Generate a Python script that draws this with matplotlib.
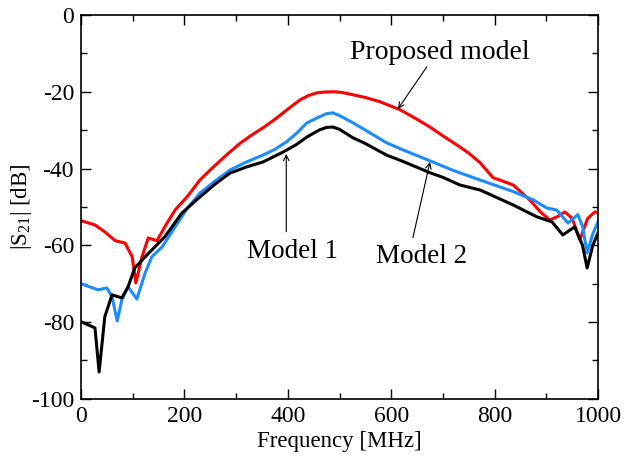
import numpy as np
import matplotlib
matplotlib.use("Agg")
import matplotlib.pyplot as plt
from matplotlib.ticker import MultipleLocator

# |S21| of the three models vs frequency
freq_prop = [0, 27, 46, 66, 85, 99, 106, 118, 130, 147, 162, 182, 205, 230, 256,
             282, 308, 330, 352, 372, 391, 410, 424, 440, 456, 470, 490, 505,
             526, 550, 578, 617, 645, 675, 700, 733, 750, 772, 797,
             810, 836, 868, 890, 907, 922, 936, 950, 965, 980, 994, 1000]
s21_prop = [-53.6, -54.7, -56.5, -58.8, -59.4, -63.0, -69.8, -63.0, -58.1, -58.8,
            -55.2, -50.8, -47.4, -43.0, -39.6, -36.4, -33.4, -31.3, -29.4, -27.5,
            -25.5, -23.5, -22.1, -21.0, -20.3, -20.1, -20.0, -20.2, -20.8, -21.5,
            -22.6, -24.7, -26.8, -29.2, -31.5, -34.4, -36.0, -38.5, -42.4, -43.0,
            -44.3, -48.2, -51.5, -53.4, -52.5, -51.3, -53.0, -58.6, -53.0, -51.3,
            -51.5]

freq_m2 = [0, 33, 50, 60, 70, 79, 91, 108, 124, 137, 157, 182, 205, 230, 260,
           288, 320, 352, 375, 398, 418, 437, 462, 475, 487, 500, 526, 550, 591,
           620, 675, 720, 772, 836, 875, 901, 920, 942, 961, 970, 979, 990, 1000]
s21_m2 = [-70.0, -71.6, -71.1, -73.4, -79.7, -74.2, -70.8, -74.0, -67.2, -63.0,
          -60.4, -55.2, -50.5, -46.4, -43.2, -40.4, -38.3, -36.5, -35.0, -33.0,
          -30.7, -28.1, -26.5, -25.7, -25.5, -26.2, -28.1, -30.0, -33.3, -35.0,
          -38.0, -40.5, -43.0, -46.0, -48.2, -50.3, -50.8, -54.2, -52.0, -55.0,
          -62.0, -57.0, -53.9]

freq_m1 = [0, 27, 35, 46, 60, 79, 91, 104, 124, 143, 162, 195, 230, 260, 288,
           320, 352, 391, 415, 437, 462, 475, 487, 500, 526, 550, 591, 620, 675,
           700, 733, 772, 836, 882, 911, 932, 955, 970, 979, 990, 1000]
s21_m1 = [-79.9, -81.5, -93.0, -78.6, -72.9, -73.7, -70.8, -65.9, -63.0, -60.4,
          -57.8, -51.6, -47.4, -44.0, -41.2, -39.6, -38.3, -35.7, -33.9, -31.8,
          -29.9, -29.3, -29.2, -29.8, -32.0, -33.5, -36.5, -38.0, -41.1, -42.3,
          -44.3, -45.6, -49.5, -52.6, -53.9, -57.3, -55.2, -60.0, -65.9, -60.0,
          -56.8]

plt.rcParams['font.family'] = ['Liberation Serif', 'DejaVu Serif']
plt.rcParams['mathtext.default'] = 'regular'
plt.rcParams['axes.unicode_minus'] = False

fig = plt.figure(figsize=(6.43, 4.66), dpi=100)
ax = fig.add_axes([0.126, 0.144, 0.804, 0.824])

ax.plot(freq_prop, s21_prop, color='#ff0000', lw=2.2)
ax.plot(freq_m2, s21_m2, color='#1a8cff', lw=2.2)
ax.plot(freq_m1, s21_m1, color='black', lw=2.2)

ax.set_xlim(0, 1000)
ax.set_ylim(-100, 0)
ax.xaxis.set_major_locator(MultipleLocator(200))
ax.xaxis.set_minor_locator(MultipleLocator(100))
ax.yaxis.set_major_locator(MultipleLocator(20))
ax.yaxis.set_minor_locator(MultipleLocator(10))
ax.tick_params(which='both', direction='in', top=True, right=True,
               labelsize=17, width=1.0)
ax.tick_params(which='major', length=7, pad=5)
ax.tick_params(which='minor', length=4)
for sp in ax.spines.values():
    sp.set_linewidth(1.2)

ax.set_xlabel('Frequency [MHz]', fontsize=16.5, labelpad=3)
ax.set_ylabel('|S$_{21}$| [dB]', fontsize=16.5)
ax.yaxis.set_label_coords(-0.09, 0.5)

arrow = dict(arrowstyle='->', lw=0.8, color='black', shrinkA=0, shrinkB=0)
ax.annotate('', xy=(613, -24.5), xytext=(669, -13.5), arrowprops=arrow)
ax.text(694, -9.8, 'Proposed model', fontsize=20, ha='center', va='center')
ax.annotate('', xy=(397, -36.2), xytext=(397, -56.5), arrowprops=arrow)
ax.text(410, -61.7, 'Model 1', fontsize=19.5, ha='center', va='center')
ax.annotate('', xy=(675, -38.3), xytext=(642, -58), arrowprops=arrow)
ax.text(658, -63, 'Model 2', fontsize=19.5, ha='center', va='center')

fig.savefig('out.png', dpi=100)
